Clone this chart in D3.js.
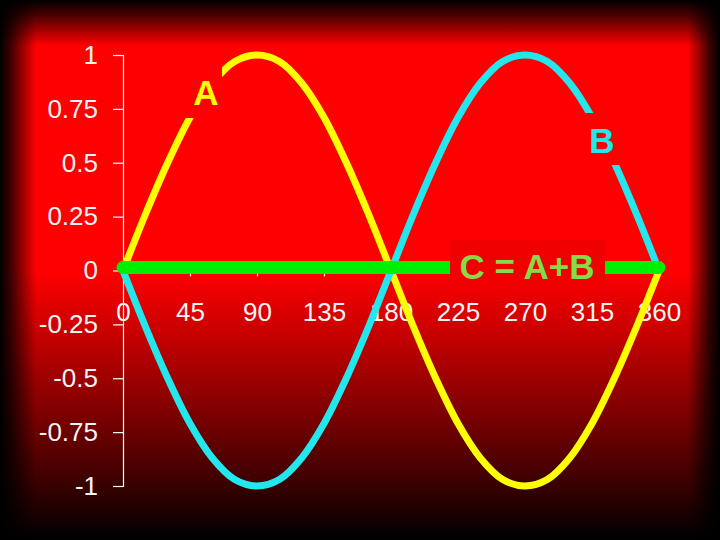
<!DOCTYPE html>
<html>
<head>
<meta charset="utf-8">
<script src="https://cdn.jsdelivr.net/npm/d3@7"></script>
<style>
  body { margin: 0; background: #000; }
  svg { display: block; font-family: Arial, "Liberation Sans", sans-serif; }
</style>
</head>
<body>
<div id="chart"></div>
<script>
// angles (degrees) read along the x axis
const angles = [0, 15, 30, 45, 60, 75, 90, 105, 120, 135, 150, 165, 180,
  195, 210, 225, 240, 255, 270, 285, 300, 315, 330, 345, 360];
// yellow wave A
const seriesA = [0, 0.26, 0.5, 0.71, 0.87, 0.97, 1, 0.97, 0.87, 0.71, 0.5, 0.26, 0,
  -0.26, -0.5, -0.71, -0.87, -0.97, -1, -0.97, -0.87, -0.71, -0.5, -0.26, 0];
// cyan wave B
const seriesB = [0, -0.26, -0.5, -0.71, -0.87, -0.97, -1, -0.97, -0.87, -0.71, -0.5, -0.26, 0,
  0.26, 0.5, 0.71, 0.87, 0.97, 1, 0.97, 0.87, 0.71, 0.5, 0.26, 0];
// green sum C
const seriesC = [0, 0, 0, 0, 0, 0, 0, 0, 0, 0, 0, 0, 0,
  0, 0, 0, 0, 0, 0, 0, 0, 0, 0, 0, 0];

const xTicks = [0, 45, 90, 135, 180, 225, 270, 315, 360];
const xTickLabels = ["0", "45", "90", "135", "180", "225", "270", "315", "360"];
const yTicks = [1, 0.75, 0.5, 0.25, 0, -0.25, -0.5, -0.75, -1];
const yTickLabels = ["1", "0.75", "0.5", "0.25", "0", "-0.25", "-0.5", "-0.75", "-1"];

const width = 720;
const height = 540;

const svg = d3
  .select("#chart")
  .append("svg")
  .attr("width", width)
  .attr("height", height);

//BEGIN: BACKGROUND
const defs = svg.append("defs");
const vGrad = defs.append("linearGradient")
  .attr("id", "bgV").attr("x1", 0).attr("y1", 0).attr("x2", 0).attr("y2", 1);
[[0, "#000000"], [0.03, "#500000"], [0.085, "#ff0000"], [0.5, "#ff0000"],
 [0.6, "#d00000"], [0.75, "#850000"], [0.9, "#380000"], [1, "#000000"]]
  .forEach(([o, c]) => vGrad.append("stop").attr("offset", o).attr("stop-color", c));

const hGrad = defs.append("linearGradient")
  .attr("id", "bgH").attr("x1", 0).attr("y1", 0).attr("x2", 1).attr("y2", 0);
[[0, 1], [0.015, 0.75], [0.05, 0], [0.955, 0], [0.985, 0.75], [1, 1]]
  .forEach(([o, a]) => hGrad.append("stop").attr("offset", o)
    .attr("stop-color", "#000").attr("stop-opacity", a));

svg.append("rect").attr("width", width).attr("height", height).attr("fill", "url(#bgV)");
svg.append("rect").attr("width", width).attr("height", height).attr("fill", "url(#bgH)");
//END: BACKGROUND

const x = d3.scaleLinear().domain([0, 360]).range([123, 659]);
const y = d3.scaleLinear().domain([-1, 1]).range([486, 55]);

//BEGIN: AXES
const yAxis = svg.append("g")
  .attr("transform", `translate(${x(0)},0)`)
  .call(d3.axisLeft(y)
    .tickValues(yTicks)
    .tickSize(10)
    .tickPadding(15)
    .tickFormat((d, i) => yTickLabels[i]));

const xAxis = svg.append("g")
  .attr("transform", `translate(0,${y(0)})`)
  .call(d3.axisBottom(x)
    .tickValues(xTicks)
    .tickSize(6)
    .tickSizeOuter(0)
    .tickPadding(26)
    .tickFormat((d, i) => xTickLabels[i]));

[yAxis, xAxis].forEach((g) => {
  g.selectAll("path, line").attr("stroke", "#ffffff").attr("stroke-width", 1.2);
  g.selectAll("text")
    .attr("fill", "#f4f4f4")
    .attr("font-size", 26)
    .attr("font-family", "Arial, 'Liberation Sans', sans-serif");
});
//END: AXES

//BEGIN: CURVES
const line = d3.line()
  .x((d, i) => x(angles[i]))
  .y((d) => y(d))
  .curve(d3.curveCatmullRom);

svg.append("path")
  .attr("d", line(seriesA))
  .attr("fill", "none")
  .attr("stroke", "#ffff00")
  .attr("stroke-width", 7);

svg.append("path")
  .attr("d", line(seriesB))
  .attr("fill", "none")
  .attr("stroke", "#22e8ee")
  .attr("stroke-width", 7);

svg.append("path")
  .attr("d", line(seriesC))
  .attr("transform", "translate(0,-3)")
  .attr("fill", "none")
  .attr("stroke", "#00ee00")
  .attr("stroke-width", 13)
  .attr("stroke-linecap", "round");
//END: CURVES

//BEGIN: LABELS
const labels = [
  { text: "A", color: "#ffff00", box: [186, 64, 36, 54], tx: 206, ty: 105, bg: "#ff0000" },
  { text: "B", color: "#22e8ee", box: [583, 113, 38, 52], tx: 602, ty: 153, bg: "#ff0000" },
  { text: "C = A+B", color: "#84dc46", box: [450, 240, 155, 52], tx: 527, ty: 279, bg: "#f00000" },
];

const lab = svg.append("g").selectAll("g").data(labels).join("g");
lab.append("rect")
  .attr("x", (d) => d.box[0])
  .attr("y", (d) => d.box[1])
  .attr("width", (d) => d.box[2])
  .attr("height", (d) => d.box[3])
  .attr("fill", (d) => d.bg);
lab.append("text")
  .attr("x", (d) => d.tx)
  .attr("y", (d) => d.ty)
  .attr("text-anchor", "middle")
  .attr("font-size", 35)
  .attr("font-weight", "bold")
  .attr("fill", (d) => d.color)
  .text((d) => d.text);
//END: LABELS
</script>
</body>
</html>
